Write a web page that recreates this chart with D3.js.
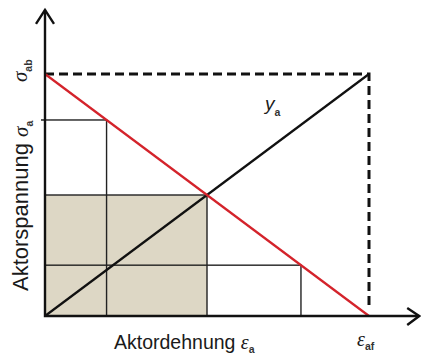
<!DOCTYPE html>
<html>
<head>
<meta charset="utf-8">
<script src="https://cdn.jsdelivr.net/npm/d3@7"></script>
<style>
  html, body { margin: 0; padding: 0; background: #fff; }
  svg { display: block; }
  text { font-family: "Liberation Sans", Arial, sans-serif; fill: #1a1a1a; }
  .greek { font-family: "Liberation Serif", "Times New Roman", serif; font-style: italic; }
  .sub { font-weight: bold; fill: #333; }
</style>
</head>
<body>
<svg id="chart" width="421" height="356"></svg>
<script>
// Normalised actuator characteristic: strain and stress relative to free strain / blocking stress
const freeStrain = 1;        // ε_af
const blockingStress = 1;    // σ_ab
// Blocking line (red): from (0, σ_ab) to (ε_af, 0)
const blockingLine = [[0, 1], [1, 0]];
// Load line y_a (black): from origin to (ε_af, σ_ab)
const loadLine = [[0, 0], [1, 1]];
// Operating points on the blocking line: [strain, stress]
const operatingPoints = [[0.19, 0.81], [0.79, 0.21]];
// Point of maximum work (shaded rectangle)
const maxWorkPoint = [0.5, 0.5];

const svg = d3.select("#chart");
const x = d3.scaleLinear().domain([0, freeStrain]).range([45, 369]);
const y = d3.scaleLinear().domain([0, blockingStress]).range([316, 74]);
const line = d3.line().x(d => x(d[0])).y(d => y(d[1]));

// shaded area of maximum work
svg.append("rect")
  .attr("x", x(0)).attr("y", y(maxWorkPoint[1]))
  .attr("width", x(maxWorkPoint[0]) - x(0))
  .attr("height", y(0) - y(maxWorkPoint[1]))
  .attr("fill", "#ddd7c5")
  .attr("stroke", "#222").attr("stroke-width", 1.4);

// work rectangles of the other operating points
svg.selectAll("rect.op").data(operatingPoints).enter().append("rect")
  .attr("class", "op")
  .attr("x", x(0)).attr("y", d => y(d[1]))
  .attr("width", d => x(d[0]) - x(0))
  .attr("height", d => y(0) - y(d[1]))
  .attr("fill", "none")
  .attr("stroke", "#222").attr("stroke-width", 1.4);

// dashed guides to (ε_af, σ_ab)
svg.append("path")
  .attr("d", line([[0, blockingStress], [freeStrain, blockingStress], [freeStrain, 0.03]]))
  .attr("fill", "none").attr("stroke", "#111")
  .attr("stroke-width", 3).attr("stroke-dasharray", "9,5");

// load line
svg.append("path").attr("d", line(loadLine))
  .attr("fill", "none").attr("stroke", "#111").attr("stroke-width", 2.2);

// blocking line
svg.append("path").attr("d", line(blockingLine))
  .attr("fill", "none").attr("stroke", "#d4232b").attr("stroke-width", 2.2);

// axes with open arrow heads
const yTip = 1.265, xTip = 1.155;
svg.append("path")
  .attr("d", line([[0, yTip], [0, 0], [xTip, 0]]))
  .attr("fill", "none").attr("stroke", "#111").attr("stroke-width", 2.4);
svg.append("path")
  .attr("d", `M${x(0) - 9},${y(yTip) + 14} L${x(0)},${y(yTip)} L${x(0) + 9},${y(yTip) + 14}`)
  .attr("fill", "none").attr("stroke", "#111").attr("stroke-width", 2.4);
svg.append("path")
  .attr("d", `M${x(xTip) - 12},${y(0) - 8} L${x(xTip)},${y(0)} L${x(xTip) - 12},${y(0) + 9}`)
  .attr("fill", "none").attr("stroke", "#111").attr("stroke-width", 2.4);

// tick for σ_a
svg.append("line")
  .attr("x1", x(0) - 4).attr("x2", x(0))
  .attr("y1", y(operatingPoints[0][1])).attr("y2", y(operatingPoints[0][1]))
  .attr("stroke", "#111").attr("stroke-width", 1.4);

// y labels (rotated)
const sab = svg.append("text")
  .attr("transform", `translate(27,${y(blockingStress) + 8}) rotate(-90)`);
sab.append("tspan").attr("class", "greek").attr("font-size", 21).text("σ");
sab.append("tspan").attr("class", "sub").attr("font-size", 10.5).attr("dy", 5).text("ab");

const yTitle = svg.append("text")
  .attr("transform", "translate(28,291) rotate(-90)");
yTitle.append("tspan").attr("font-size", 22).text("Aktorspannung ");
yTitle.append("tspan").attr("class", "greek").attr("font-size", 21).text("σ");
yTitle.append("tspan").attr("class", "sub").attr("font-size", 10.5).attr("dy", 5).text("a");

// x labels
const xTitle = svg.append("text").attr("x", 114).attr("y", 349);
xTitle.append("tspan").attr("font-size", 19.5).text("Aktordehnung ");
xTitle.append("tspan").attr("class", "greek").attr("font-size", 20).text("ε");
xTitle.append("tspan").attr("class", "sub").attr("font-size", 10.5).attr("dy", 4).text("a");

const eaf = svg.append("text").attr("x", x(freeStrain) - 12).attr("y", 346);
eaf.append("tspan").attr("class", "greek").attr("font-size", 20).text("ε");
eaf.append("tspan").attr("class", "sub").attr("font-size", 10.5).attr("dy", 4).text("af");

// load line label
const ya = svg.append("text").attr("x", 265).attr("y", 110);
ya.append("tspan").attr("font-style", "italic").attr("font-size", 19).text("y");
ya.append("tspan").attr("class", "sub").attr("font-size", 10.5).attr("dy", 6).text("a");
</script>
</body>
</html>
